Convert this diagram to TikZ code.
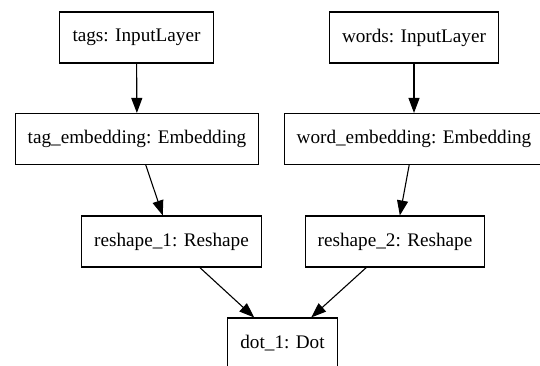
\documentclass[tikz,border=0pt]{standalone}
\usepackage{fontspec}
\setmainfont{Liberation Serif}
\usetikzlibrary{arrows.meta}
\tikzset{
  layer/.style={
    draw=black,
    line width=0.55pt,
    rectangle,
    inner xsep=6.3pt,
    inner ysep=0pt,
    minimum height=25.5pt,
    font=\fontsize{9.6}{11}\selectfont
  },
  link/.style={
    line width=0.55pt,
    -{Triangle[length=7.5pt,width=5.5pt]}
  }
}
\begin{document}
\begin{tikzpicture}[x=0.5pt,y=-0.5pt]
  \clip (0,0) rectangle (540,365);

  % input layers
  \node[layer] (tags) at (136.5,37.5) {tags: InputLayer};
  \node[layer] (words) at (414,37.5) {words: InputLayer};

  % embeddings
  \node[layer] (tagemb) at (137,139) {tag\_embedding: Embedding};
  \node[layer] (wordemb) at (414,139) {word\_embedding: Embedding};

  % reshapes
  \node[layer] (reshape1) at (171.5,241.5) {reshape\_1: Reshape};
  \node[layer] (reshape2) at (395,241.5) {reshape\_2: Reshape};

  % output
  \node[layer] (dot1) at (282.5,343.5) {dot\_1: Dot};

  \draw[link] (tags) -- (tagemb);
  \draw[link] (words) -- (wordemb);
  \draw[link] (tagemb) -- (reshape1);
  \draw[link] (wordemb) -- (reshape2);
  \draw[link] (reshape1) -- (dot1);
  \draw[link] (reshape2) -- (dot1);

\end{tikzpicture}
\end{document}
